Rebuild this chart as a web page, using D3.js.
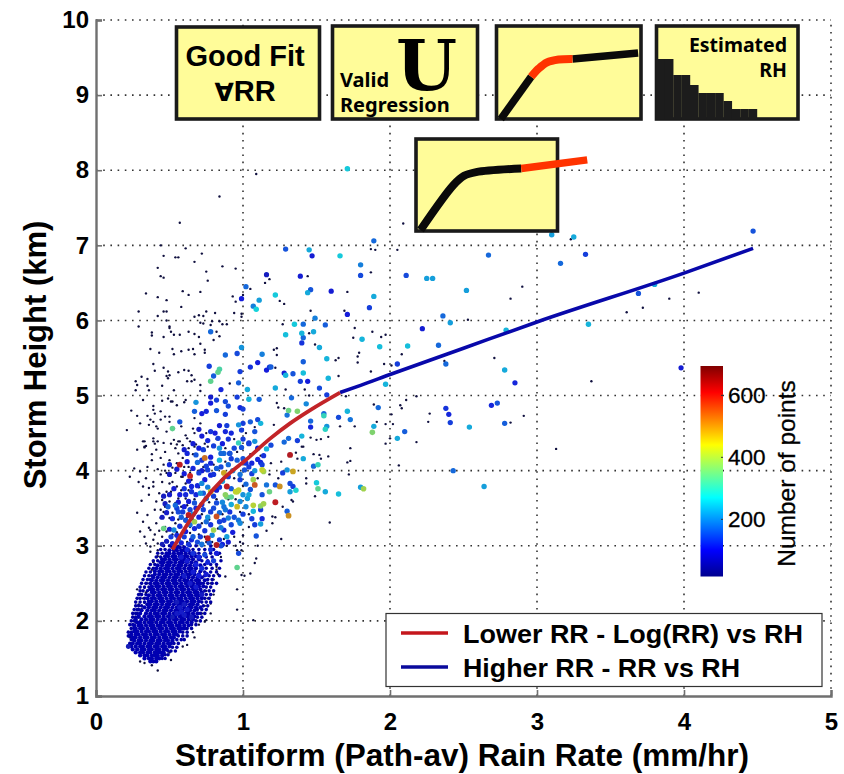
<!DOCTYPE html>
<html>
<head>
<meta charset="utf-8">
<script src="https://cdn.jsdelivr.net/npm/d3@7"></script>
<style>
  body { margin: 0; background: white; }
  text { font-family: "Liberation Sans", Arial, sans-serif; fill: #000; }
</style>
</head>
<body>
<div id="chart"></div>
<script>
// values. rain rate (mm/hr), storm height (km), count
const xTicks = [0, 1, 2, 3, 4, 5];
const yTicks = [1, 2, 3, 4, 5, 6, 7, 8, 9, 10];
const barTicks = [200, 400, 600];

const lowerFit = [[.52,2.95],[.62,3.28],[.73,3.59],[.87,3.90],[1.03,4.16],[1.18,4.42],[1.32,4.63],[1.46,4.81],[1.66,5.04]];
const higherFit = [[1.66,5.04],[1.8,5.135],[2,5.28],[2.5,5.63],[3,5.98],[4,6.63],[4.47,6.96]];

// single profiles, lowest count
const tinyPts = [
[1.09,7.95],[.84,7.65],[.57,7.30],[.44,7.0],[.61,6.96],[.72,6.89],[.46,6.86],[.54,6.84],[.56,6.84],[.67,6.78],[.86,6.72],[.95,6.69],[.42,6.70],[.44,6.59],[.46,6.57],[.75,6.65],[.76,6.53],[1.15,6.50],[1.18,6.55],[.34,6.36],[.59,6.39],[.63,6.34],[.71,6.38],[.42,6.31],[.48,6.27],[.58,6.18],[.93,6.32],[1.0,6.34],[.95,6.25],[1.05,6.42],[1.25,6.26],[1.28,6.22],[.29,6.12],[.42,6.06],[.46,6.12],[.48,6.12],[.48,6.0],[.75,6.12],[.67,6.05],[.70,6.07],[.73,6.06],[.81,6.10],[.94,6.10],[.99,6.09],[.99,6.05],[.71,5.97],[.73,5.96],[.79,5.99],[.78,5.94],[.84,5.99],[.86,5.95],[.89,5.95],[.29,5.92],[.50,5.92],[1.27,5.95],
[1.44,6.59],[1.71,6.38],[1.69,6.13],[1.46,6.13],[1.76,5.90],[2.09,7.29],[2.05,6.94],[1.87,6.95],[1.90,6.94],[1.87,6.64],[2.53,6.01],
[2.90,6.45],[2.82,6.29],[3.23,7.08],[3.61,6.11],[3.72,6.17],[3.90,6.29],[4.10,6.37],[2.71,5.50],
[3.37,5.19],[3.13,4.29],[2.08,5.55],[1.96,5.42],[2.01,5.40],[2.37,5.46],[2.18,4.99],[2.11,4.94],[2.07,4.87],[2.08,4.83],[2.01,4.75],[1.97,4.62],[2.02,4.62],[2.27,4.76],[2.26,4.65],[2.91,4.73],[2.82,4.64],[2.18,4.38],[1.97,4.36],[2.06,4.07],
[1.45,5.83],[1.75,5.77],[1.88,5.85],[1.94,5.78],[1.97,5.81],[1.49,5.68],[1.79,5.57],[1.78,5.52],[1.78,5.44],[1.87,5.32],[1.65,5.50],[1.63,5.47],[1.65,5.26],[1.21,5.61],[1.23,5.63],[1.23,5.54],[1.22,5.37],[1.29,5.08],[1.42,5.08],[1.45,5.0],[1.70,4.99],[1.89,4.88],[1.91,4.65],[1.76,4.59],[1.66,4.59],[1.73,4.30],[2.0,4.43],[1.53,4.42],[1.50,4.41],[1.46,4.44],[1.58,4.45],[1.41,4.32],[1.21,4.61],[1.23,4.90],[1.24,4.84],[1.28,4.83],
[.38,5.84],[.38,5.80],[.46,5.78],[.50,5.90],[.51,5.85],[.53,5.81],[.57,5.81],[.63,5.85],[.67,5.82],[.70,5.78],[.71,5.69],[.80,5.74],[.82,5.85],[.84,5.79],[.37,5.62],[.43,5.57],[.52,5.62],[.53,5.55],[.58,5.59],[.63,5.61],[.66,5.62],[.67,5.55],[.74,5.61],[.74,5.57],[.39,5.42],[.40,5.33],[.46,5.37],[.49,5.32],[.50,5.27],[.49,5.23],[.48,5.26],[.56,5.31],[.60,5.34],[.63,5.33],[.65,5.27],[.31,5.25],[.27,5.19],[.35,5.22],[.28,5.14],[.27,5.07],[.35,5.13],[.36,5.07],[.45,5.13],[.53,5.07],[.62,5.19],[.65,5.19],[.67,5.21],[.71,5.14],[.71,5.06],[.91,5.16],
[.32,4.94],[.39,4.86],[.39,4.81],[.40,4.76],[.45,4.93],[.49,4.96],[.51,4.92],[.52,4.92],[.61,4.94],[.60,4.91],[.55,4.87],[.24,4.80],[.28,4.73],[.35,4.73],[.37,4.68],[.30,4.63],[.36,4.61],[.44,4.79],[.47,4.72],[.50,4.72],[.39,4.65],[.44,4.68],[.41,4.59],[.42,4.56],[.48,4.52],[.50,4.65],[.53,4.56],[.21,4.54],[.32,4.39],[.34,4.33],[.33,4.31],[.39,4.43],[.42,4.39],[.40,4.36],[.51,4.36],[.53,4.41],[.56,4.39],[.55,4.35],[.62,4.43],[.64,4.39],[.67,4.50],[.66,4.56],[.67,4.70],[.71,4.63],[.74,4.36],[.76,4.32],[.67,4.32],[.59,4.34],[.61,4.47],[.58,4.59],
[1.71,4.11],[1.73,4.13],[1.72,3.95],[1.48,4.22],[1.52,4.21],[1.53,4.16],[1.58,4.19],[1.43,3.90],[1.43,3.83],[1.49,3.66],[1.59,3.31],[1.33,3.61],[1.34,3.59],[1.27,3.52],[1.20,3.39],[1.22,3.38],[1.26,3.09],[.89,3.0],[.95,3.0],[.96,2.94],[.99,2.94],[1.0,3.03],[1.0,3.14],[1.19,4.1],[1.26,4.12],[1.40,4.32],[1.36,4.24],[1.37,4.16],
[1.09,2.83],[1.08,2.77],[1.05,2.63],[.99,2.61],[1.01,2.60],[.96,2.42],[.96,2.15],[1.07,2.01],[.75,2.01],[.74,1.99],[.78,2.10],[.80,2.35],[.78,2.23],[.88,2.59],[.82,2.68],[.80,2.81],[.83,2.88],[.51,1.48],[.59,1.66],[.38,1.41],[.42,1.34],[.30,1.46],[.33,1.44],
[.33,4.39],[.28,4.28],[.38,4.14],[.30,3.99],[.23,3.92],[.34,3.90],[.29,3.85],[.39,3.85],[.36,3.77],[.45,3.85],[.48,3.97],[.54,3.97],[.55,4.10],[.50,4.14],[.46,4.37],[.54,4.30],[.63,4.30],[.56,4.23],[.59,4.17],[.44,4.17],[.33,4.32],[.41,4.28],[.57,4.39],[.39,4.39],[.32,3.79],[.39,3.79],[.41,3.59],[.45,3.61],[.50,3.83],[.55,3.79],[.61,3.83],[.65,3.88],[.64,3.97],[.59,3.92],[.44,3.48],[.40,3.48],[.32,3.32],[.30,3.19],[.33,3.12],[.37,3.21],[.39,3.08],[.45,3.12],[.48,3.19],[.41,3.30],[.44,3.37],[.50,3.37],[.54,3.30],[.56,3.63],[.61,3.63],[.63,3.74],[.58,3.74],[.51,3.72],[.50,3.59],[.54,3.57],[.58,3.52],[.62,3.54],[.42,3.03],[.37,2.99],[.37,2.92],[.42,2.94],
[.36,3.68],[.43,3.70],[.47,3.52],[.35,3.41],[.52,3.44],[.47,3.25],[.40,3.15],[.58,3.25],[.26,4.03],[.42,4.02],[.46,4.08],[.52,4.04],[.60,4.05],[.35,4.05],[.47,4.25],[.38,4.22],[.44,3.95],[.31,3.60],[.28,3.44],[.36,3.24],[.34,3.03],[.52,3.15],[.56,3.0],[.62,3.38],[.68,3.44],[.64,3.17],[.70,4.0],[.66,4.22],[.74,4.27],[.70,3.78],[.67,3.62],[.72,3.3],[.74,3.12],[.79,3.05],[.83,3.23],[.87,3.09],
[.28,2.42],[.30,2.36],[.32,2.30],[.29,2.22],[.31,2.16],[.33,2.44],[.35,2.50],[.34,2.38],[.33,2.24],[.36,2.60],[.38,2.68],[.39,2.78],[.42,2.86],[.24,1.90],[.23,1.78],[.28,2.05],[.27,1.98],[.75,2.4],[.78,2.5],[.80,2.55],[.76,2.3],[.72,2.1],[.70,1.95],[.66,1.85],[.60,1.75],[.55,1.65],[.50,1.58],[.82,2.72],[.85,2.85],[.83,2.62],[.74,2.2],[.67,1.78],[.62,1.68],
[.6,3.2],[.66,3.35],[.72,3.42],[.77,3.58],[.82,3.62],[.9,3.62],[.95,3.62],[.98,3.45],[1.04,3.42],[.88,3.92],[.94,3.9],[1.0,3.8],[1.1,3.9],[1.18,3.95],[1.24,3.9],[1.12,4.2],[1.05,4.22],[.96,4.25],[.88,4.12],[.8,4.08],[.73,4.05],[.68,4.35],[.75,4.5],[.82,4.42],[.88,4.3],[.94,4.42],[1.02,4.5],[1.08,4.58],[.64,3.25],[.7,3.15],[.77,3.35],[.86,3.42],[.94,3.12],[.98,3.05],[1.04,3.25],[1.1,3.0],[1.16,3.2],[1.2,3.3],[.58,3.92],[.63,4.05],[.48,3.72],[.52,3.85],[.47,4.0],[.56,3.35],[.43,3.2],[.46,3.45],[.62,3.05],[.75,3.05],[.55,3.18]
];

// the dense low cloud, one list of rain rates per height level
const blobY = [1.46,1.50,1.54,1.58,1.62,1.66,1.70,1.74,1.78,1.82,1.86,1.90,1.94,1.98,2.02,2.06,2.10,2.14,2.18,2.22,2.26,2.30,2.34,2.38,2.42,2.46,2.50,2.54,2.58,2.62,2.66,2.70,2.74,2.78,2.82,2.86,2.90,2.94,2.98];
const blobX = [
[.37,.39,.41],
[.33,.36,.38,.41,.43],
[.30,.33,.35,.38,.40,.42,.45],
[.27,.30,.32,.35,.37,.40,.42,.44,.46],
[.25,.28,.31,.33,.36,.38,.41,.43,.46,.48],
[.22,.24,.27,.30,.32,.35,.37,.40,.42,.45,.47,.50],
[.25,.28,.30,.33,.36,.38,.41,.43,.46,.49,.51],
[.26,.29,.31,.34,.37,.39,.42,.44,.47,.49,.52],
[.25,.27,.30,.33,.35,.38,.40,.43,.46,.48,.51,.53],
[.24,.27,.29,.32,.34,.37,.40,.42,.45,.47,.50,.53,.55],
[.26,.28,.31,.34,.36,.39,.41,.44,.47,.49,.52,.54,.57],
[.27,.30,.32,.35,.38,.40,.43,.45,.48,.51,.53,.56,.58,.60],
[.26,.29,.31,.34,.37,.39,.42,.44,.47,.50,.52,.55,.57,.60,.63],
[.28,.30,.33,.36,.38,.41,.44,.46,.49,.51,.54,.57,.59,.62,.65],
[.27,.31,.34,.37,.39,.42,.45,.47,.50,.53,.55,.58,.60,.63,.66],
[.29,.33,.36,.38,.41,.43,.46,.49,.51,.54,.57,.59,.62,.64,.67],
[.30,.34,.37,.40,.42,.45,.47,.50,.53,.55,.58,.61,.63,.66,.69],
[.31,.35,.38,.40,.43,.46,.48,.51,.54,.56,.59,.62,.64,.67],
[.33,.36,.39,.41,.44,.47,.49,.52,.55,.57,.60,.63,.65,.68,.71],
[.35,.37,.40,.42,.45,.48,.50,.53,.56,.58,.61,.64,.66,.69],
[.36,.38,.41,.44,.46,.49,.51,.54,.57,.59,.62,.65,.67,.70],
[.35,.38,.40,.43,.45,.48,.51,.53,.56,.58,.61,.64,.66,.69,.72],
[.36,.39,.42,.44,.47,.50,.52,.55,.58,.60,.63,.65,.68,.70],
[.38,.40,.43,.46,.48,.51,.54,.56,.59,.62,.64,.67,.69,.72],
[.37,.39,.42,.45,.47,.50,.52,.55,.58,.60,.63,.66,.68,.71],
[.38,.41,.43,.46,.49,.51,.54,.57,.59,.62,.65,.67,.70,.73],
[.37,.40,.42,.45,.48,.50,.53,.55,.58,.61,.63,.66,.69,.71],
[.38,.41,.44,.46,.49,.52,.54,.57,.60,.62,.65,.68,.70,.74],
[.39,.42,.45,.47,.50,.53,.55,.58,.60,.63,.66,.69,.72],
[.40,.43,.46,.48,.51,.54,.56,.59,.62,.64,.67,.70],
[.40,.43,.45,.48,.50,.53,.56,.58,.61,.64,.67,.71],
[.41,.44,.47,.49,.52,.55,.57,.60,.63,.65,.68],
[.42,.45,.48,.50,.53,.56,.58,.61,.64,.67,.71],
[.44,.46,.49,.51,.54,.57,.59,.62,.65,.68],
[.45,.47,.50,.53,.55,.58,.60,.63,.66,.70],
[.47,.49,.52,.54,.57,.60,.62,.65,.68],
[.48,.50,.53,.56,.58,.61,.64,.67],
[.50,.53,.55,.58,.60,.63],
[.52,.55,.57,.60]
];

// thinner fringe round the cloud, same form
const edgeY = [1.5,1.55,1.6,1.65,1.7,1.75,1.8,1.85,1.9,1.95,2.0,2.05,2.1,2.15,2.2,2.25,2.3,2.35,2.4,2.45,2.5,2.55,2.6,2.65,2.7,2.75,2.8,2.85,2.9,2.95,3.0];
const edgeX = [
[.45,.47],
[.47,.49],
[.49,.51,.54],
[.52,.55],
[.23,.53,.56],
[.24,.55,.58,.60],
[.22,.23,.56,.59,.62],
[.22,.24,.59,.62],
[.24,.26,.62,.65],
[.23,.25,.65,.68],
[.24,.26,.68,.71],
[.25,.27,.29,.69,.72],
[.25,.27,.28,.71,.74],
[.26,.28,.29,.69,.72,.75],
[.27,.29,.31,.73,.76],
[.27,.30,.33,.72,.75,.78],
[.28,.30,.33,.74,.77],
[.29,.31,.34,.72,.75,.78],
[.30,.32,.35,.74,.77,.80],
[.30,.33,.36,.75,.78],
[.31,.34,.73,.76,.79,.82],
[.32,.35,.37,.76,.79],
[.33,.36,.38,.74,.77,.80,.84],
[.34,.37,.74,.78,.82],
[.36,.39,.72,.75,.79,.84],
[.37,.40,.74,.78,.82],
[.39,.42,.72,.76,.80,.85],
[.41,.44,.71,.75,.79],
[.42,.45,.70,.74,.78,.84],
[.44,.47,.66,.70,.74,.80],
[.46,.50,.64,.68,.72,.78,.86]
];

// rain rate, height, number of points
const binnedPts = [
[.55,2.10,75],[.58,2.12,80],[.60,2.08,75],[.57,2.18,75],[.62,2.15,80],[.60,2.22,70],[.55,2.25,65],[.65,2.05,65],[.52,2.05,60],[.22,1.66,60],
[.62,2.95,110],[.66,2.90,120],[.70,2.85,110],[.74,2.88,140],[.78,2.95,120],[.82,2.90,100],[.68,2.75,105],[.72,2.70,115],[.66,2.65,90],[.70,2.60,95],[.75,2.62,90],[.62,2.80,90],[.58,2.85,85],[.60,2.60,80],[.64,2.50,80],[.68,2.45,85],[.72,2.35,75],[.76,2.78,110],[.80,2.80,130],[.85,3.00,140],
[1.29,6.95,150],[1.16,6.61,70],[1.39,6.59,90],[1.02,6.45,170],[.99,6.29,100],[1.11,6.27,220],[1.22,6.34,260],[1.07,6.19,190],[1.09,6.15,270],[1.35,5.95,260],
[1.71,8.02,260],[1.45,6.94,230],[1.47,6.86,90],[1.66,6.86,260],[1.89,7.06,170],[1.80,6.74,190],[1.80,6.60,140],[1.46,6.41,150],[1.44,6.37,230],[1.60,6.39,90],[1.89,6.32,230],[1.86,6.17,130],[1.71,6.08,100],[1.49,6.03,190],[1.41,5.95,170],[1.56,5.94,160],[2.11,6.60,140],[2.25,6.56,220],[2.29,6.56,220],[2.52,6.40,220],[2.36,6.06,170],[2.41,5.97,220],[2.22,5.89,90],
[2.67,6.87,170],[3.10,7.14,220],[3.25,7.11,230],[3.16,6.76,170],[3.33,6.88,130],[4.47,7.19,150],[2.79,5.87,240],[2.78,5.34,230],[3.35,5.95,240],[3.69,6.36,150],[3.80,6.48,230],[3.98,5.37,90],
[1.29,5.81,250],[1.40,5.83,240],[1.48,5.85,230],[1.41,5.77,170],[1.40,5.70,120],[1.52,5.64,230],[1.81,5.75,240],[1.93,5.65,250],[2.12,5.66,250],[2.33,5.67,170],[2.38,5.42,170],[2.05,5.42,130],[1.41,5.45,160],[1.57,5.49,240],[1.41,5.30,250],[1.28,5.30,90],[1.29,5.27,240],[1.34,5.29,150],[1.39,5.19,130],[1.44,5.19,100],[1.58,5.23,240],[1.52,5.10,140],[1.22,5.10,230],[1.97,5.15,240],[1.19,5.38,160],[1.33,4.97,170],[1.57,5.01,130],[1.43,4.89,200],[1.31,4.80,350],[1.37,4.79,370],[1.30,4.74,180],[1.55,4.76,170],[1.55,4.73,300],[1.71,4.79,240],[1.65,4.71,140],[1.73,4.68,180],[1.92,4.84,170],[1.46,4.66,170],[1.46,4.58,110],[1.57,4.59,210],[1.56,4.55,290],[1.89,4.59,230],[1.88,4.51,370],[2.10,4.52,160],[2.05,4.43,230],[2.38,4.83,120],[2.40,4.75,110],[2.41,4.64,130],[2.54,4.58,230],[1.40,4.46,240],[1.37,4.40,130],[1.31,4.43,170],[1.28,4.38,170],[1.19,4.34,140],
[2.85,5.17,110],[2.69,4.87,110],[2.73,4.90,150],[2.78,4.63,160],[2.43,4.0,170],[2.64,3.79,220],
[.78,5.85,170],[.88,5.54,170],[.96,5.56,140],[.99,5.64,210],[1.13,5.55,190],[1.10,5.44,100],[1.05,5.38,120],[1.16,5.34,100],[1.18,5.38,120],[.98,5.32,130],[.77,5.39,130],[.84,5.35,320],[.83,5.31,340],[.80,5.26,160],[.78,5.19,340],[.97,5.17,160],[1.03,5.08,230],[.85,5.08,110],[1.04,4.95,240],[1.11,4.95,160],[.78,4.98,80],[.82,4.94,130],[.88,4.92,140],[.96,4.98,130],[.68,4.91,210],[.78,4.90,100],[.90,4.86,140],[1.0,4.82,130],[.98,4.84,110],[.67,4.79,160],[.72,4.76,100],[.75,4.79,110],[.82,4.80,150],[.88,4.75,130],[.57,4.65,150],[.52,4.56,340],[.97,4.61,210],[1.0,4.63,130],[1.05,4.65,160],[1.10,4.68,140],[1.12,4.63,240],[.99,4.54,130],[1.08,4.52,150],[.89,4.60,130],[.88,4.52,110],[.81,4.50,100],[.83,4.43,130],
[1.32,4.21,630],[1.16,4.29,240],[1.08,4.39,210],[1.04,4.36,130],[.99,4.31,150],[1.0,4.16,150],[.91,4.23,150],[.92,4.16,130],[.87,4.23,170],[1.06,4.10,110],[1.12,4.11,110],[1.13,4.08,130],[1.41,4.16,230],[1.48,4.06,170],[1.51,4.08,300],[1.30,4.01,210],[1.27,3.97,130],[1.34,3.99,480],[1.08,4.0,210],[1.13,4.01,430],[1.01,4.01,150],[1.06,3.96,130],[1.08,3.81,550],[1.07,3.88,400],[1.16,3.81,180],[1.22,3.81,150],[1.25,3.79,500],[1.18,3.72,350],[1.05,3.75,150],[1.13,3.68,150],[1.32,3.83,140],[1.34,3.79,130],[1.32,3.72,220],[1.36,3.74,280],[1.50,3.84,260],[1.51,3.76,340],[1.56,3.72,230],[1.65,3.69,250],[1.80,3.78,220],[1.82,3.76,400],[1.22,3.58,620],[1.14,3.56,400],[1.12,3.53,380],[1.07,3.54,420],[1.07,3.46,240],[1.12,3.48,130],[.96,3.72,420],[.97,3.74,430],[.88,3.68,380],[.92,3.65,330],[1.04,3.68,230],[1.03,3.63,220],[.96,3.52,460],[.98,3.59,200],[.88,3.48,180],[.90,3.37,190],[.87,3.34,130],[1.30,3.46,160],[1.31,3.40,500],[1.06,3.36,130],[1.13,3.36,110],[1.12,3.29,220],[1.08,3.28,130],[1.09,3.13,150],[.98,3.30,200],[.97,3.34,180],[.97,2.90,140],[.96,2.71,340],
[.50,4.08,110],[.57,4.08,620],[.64,3.93,600],[.69,4.11,170],[.74,4.17,530],[.70,3.97,130],[.76,4.01,130],[.78,3.94,110],[.72,3.83,200],[.78,3.72,450],[.82,3.74,90],[.89,3.79,620],[.95,3.72,430],[.89,3.65,350],[.61,3.68,110],[.54,3.54,170],[.49,3.52,160],[.56,3.45,140],[.63,3.41,620],[.67,3.32,400],[.61,3.34,150],[.46,3.23,350],[.53,3.21,200],[.61,3.19,100],[.67,3.23,110],[.75,3.32,170],[.82,3.39,560],[.84,3.32,130],[.80,3.21,400],[.76,3.10,620],[.82,3.01,630],[.89,3.12,220],[.71,3.12,130],[.65,3.08,110],[.56,3.08,150],[.51,3.12,130],[.63,3.59,90],[.67,3.57,150],[.71,3.70,210],[.75,3.63,180],[.82,3.57,140],[.87,3.52,180],[.91,3.45,120],[.87,3.21,110],[.73,3.48,130],[.68,3.50,110],[.78,3.45,130],[.65,3.79,110],[.65,3.72,120],[.59,3.45,130],[.84,4.14,240],[.87,3.97,480],[.90,3.92,130],[.78,4.10,110],[.82,4.03,160],[.68,4.21,150],[.85,4.23,170],[.91,4.23,130],[.62,4.23,110],[1.04,4.37,130],[.97,4.37,300],[.84,4.30,210],[.73,4.28,130],[.96,4.14,160],[1.02,4.10,120],[1.14,3.99,400],
[.45,3.02,60],[.48,3.06,70],[.52,3.03,90],[.55,3.14,110],[.58,3.04,100],[.60,3.12,130],[.63,3.02,120],[.66,3.12,160],[.69,3.05,140],[.72,3.02,180],[.74,3.2,120],[.77,3.04,150],[.79,3.14,200],[.84,3.08,120],[.86,3.02,100],[.9,3.05,90],[.93,3.18,100],[.5,3.22,80],[.57,3.26,120],[.64,3.28,180],[.70,3.26,130],[.78,3.28,120],[.85,3.24,190],[.92,3.28,140],
[.45,3.38,70],[.48,3.44,80],[.52,3.36,110],[.55,3.5,130],[.58,3.38,160],[.60,3.52,100],[.64,3.48,140],[.66,3.42,200],[.70,3.38,110],[.72,3.55,120],[.76,3.38,210],[.8,3.5,140],[.84,3.44,170],[.86,3.58,200],[.92,3.55,230],[.94,3.38,150],[1.0,3.42,130],[1.02,3.52,200],[.56,3.58,90],[.47,3.56,70],
[.46,3.66,70],[.5,3.68,80],[.53,3.76,90],[.57,3.68,100],[.6,3.76,120],[.63,3.86,90],[.68,3.68,110],[.73,3.7,160],[.76,3.78,190],[.8,3.66,130],[.84,3.78,120],[.86,3.86,220],[.92,3.76,160],[1.0,3.68,210],[1.02,3.82,170],[.98,3.88,130],[.74,3.88,100],[.69,3.8,110],
[.5,3.95,70],[.55,4.02,90],[.6,3.96,100],[.66,4.03,110],[.72,4.0,90],[.75,4.06,130],[.8,3.95,120],[.85,4.05,140],[.9,4.08,170],[.93,4.0,200],[.98,3.95,180],[1.04,4.05,130],[1.1,4.15,110],[.72,4.14,120],[.62,4.12,90],[.78,4.18,100],
[.6,4.28,80],[.66,4.36,90],[.7,4.3,100],[.76,4.4,110],[.8,4.33,130],[.86,4.36,100],[.9,4.42,120],[.94,4.3,140],[.72,4.46,90],[.78,4.52,120],[.92,4.5,110],[1.0,4.42,130],[1.1,4.3,90],[1.14,4.2,120],[.7,4.55,70],[.84,4.6,90]
];

// inset icons, in percent of their box
const knee3Black = [[[3,100],[24,54.6]], [[52.6,35.4],[98,29]]];
const knee3Red = [[24,54.6],[29,46],[35,39],[43,36],[52.6,35.4]];
const knee5Black = [[3.2,99],[26.5,50],[34,40],[42.5,36],[74.4,32]];
const knee5Red = [[74.4,32],[121,22.7]];
const estHeights = [60,60,44,44,34,26,26,26,18,10,10,10];

const width = 844, height = 774;
const svg = d3.select("#chart").append("svg").attr("width", width).attr("height", height);
const defs = svg.append("defs");
defs.append("filter").attr("id", "soft").append("feGaussianBlur").attr("stdDeviation", .45);
defs.append("filter").attr("id", "softer").append("feGaussianBlur").attr("stdDeviation", .3);

const x = d3.scaleLinear().domain([0, 5]).range([96, 831]);
const y = d3.scaleLinear().domain([1, 10]).range([696, 20]);

// grid first, everything sits on top of it
const gridColor = "#333";
svg.append("g").selectAll("line").data(xTicks.slice(1)).join("line")
    .attr("x1", d => x(d)).attr("x2", d => x(d))
    .attr("y1", y(1)).attr("y2", y(10))
    .attr("stroke", gridColor).attr("stroke-width", 1.6).attr("stroke-dasharray", "1.6 5.6");
svg.append("g").selectAll("line").data(yTicks.slice(1)).join("line")
    .attr("x1", x(0)).attr("x2", x(5))
    .attr("y1", d => y(d)).attr("y2", d => y(d))
    .attr("stroke", gridColor).attr("stroke-width", 1.6).attr("stroke-dasharray", "1.6 5.6");

// jet, as in the colour bar
const count = d3.scaleLinear().domain([14, 693]);
const jetStops = [[0, "#00008f"], [.125, "#0000ff"], [.375, "#00ffff"], [.625, "#ffff00"], [.875, "#ff0000"], [1, "#800000"]];
const jetT = d3.scaleLinear().domain(jetStops.map(d => d[0])).range(jetStops.map(d => d[1])).interpolate(d3.interpolateRgb);
const jet = c => jetT(count(c));
// the scan washes the dots out a little
const washed = c => d3.interpolateRgb(jet(c), "#406080")(.28);
const radius = d3.scaleLinear().domain([14, 30, 40, 70, 690]).range([1.2, 1.8, 2.15, 2.6, 3]).clamp(true);

const dots = svg.append("g");
dots.selectAll(".tiny").data(tinyPts).join("circle").attr("class", "tiny")
    .attr("cx", d => x(d[0])).attr("cy", d => y(d[1])).attr("r", radius(14))
    .attr("fill", "#10103f");

const fringePts = edgeY.flatMap((h, i) => edgeX[i].map(r => [r, h, 30]));
const blobPts = blobY.flatMap((h, i) => blobX[i].map(r => [r, h, 40]));
dots.append("g").attr("filter", "url(#softer)").selectAll("circle").data(fringePts.concat(blobPts)).join("circle")
    .attr("cx", d => x(d[0])).attr("cy", d => y(d[1])).attr("r", d => radius(d[2]))
    .attr("fill", d => jet(d[2]));

const binned = binnedPts.slice().sort((a, b) => a[2] - b[2]);
dots.append("g").attr("filter", "url(#soft)").selectAll("circle").data(binned).join("circle")
    .attr("cx", d => x(d[0])).attr("cy", d => y(d[1])).attr("r", d => radius(d[2]))
    .attr("fill", d => washed(d[2]));

// fit lines
const fitLine = d3.line().x(d => x(d[0])).y(d => y(d[1])).curve(d3.curveMonotoneX);
svg.append("path").attr("d", fitLine(higherFit)).attr("fill", "none").attr("stroke", "#0808aa").attr("stroke-width", 3.6);
svg.append("path").attr("d", fitLine(lowerFit)).attr("fill", "none").attr("stroke", "#c22428").attr("stroke-width", 3.8);

// axes, left and bottom only
const axisColor = "#707070";
const xAxis = svg.append("g").attr("transform", `translate(0,${y(1)})`)
    .call(d3.axisBottom(x).tickValues(xTicks).tickFormat(d3.format("d")).tickSize(-6).tickPadding(17));
const yAxis = svg.append("g").attr("transform", `translate(${x(0)},0)`)
    .call(d3.axisLeft(y).tickValues(yTicks).tickFormat(d3.format("d")).tickSize(-6).tickPadding(7));
[xAxis, yAxis].forEach(a => {
    a.select(".domain").attr("stroke", axisColor).attr("stroke-width", 2.4);
    a.selectAll(".tick line").attr("stroke", axisColor).attr("stroke-width", 1.6);
    a.selectAll("text").style("font-family", '"Liberation Sans", Arial, sans-serif')
        .style("font-size", "24px").style("font-weight", "bold").attr("fill", "#000");
});

svg.append("text").attr("x", 462).attr("y", 766).attr("text-anchor", "middle")
    .style("font-size", "31.5px").style("font-weight", "bold")
    .text("Stratiform (Path-av) Rain Rate (mm/hr)");
svg.append("text").attr("transform", "translate(46,355) rotate(-90)").attr("text-anchor", "middle")
    .style("font-size", "31px").style("font-weight", "bold")
    .text("Storm Height (km)");

// colour bar
const barY = d3.scaleLinear().domain(count.domain()).range([576.5, 366]);
const grad = defs.append("linearGradient").attr("id", "jet")
    .attr("x1", 0).attr("x2", 0).attr("y1", 1).attr("y2", 0);
grad.selectAll("stop").data(jetStops).join("stop")
    .attr("offset", d => d[0]).attr("stop-color", d => d[1]);
svg.append("rect").attr("x", 700.5).attr("y", barY(693)).attr("width", 22.5)
    .attr("height", barY(14) - barY(693)).attr("fill", "url(#jet)");
const barAxis = svg.append("g").attr("transform", "translate(723,0)")
    .call(d3.axisRight(barY).tickValues(barTicks).tickSize(-2).tickPadding(5));
barAxis.select(".domain").remove();
barAxis.selectAll(".tick line").attr("stroke", "#333");
barAxis.selectAll("text").style("font-family", '"Liberation Sans", Arial, sans-serif')
    .style("font-size", "22.5px").attr("fill", "#000").attr("stroke", "#000").attr("stroke-width", .3);
svg.append("text").attr("transform", "translate(795,473.5) rotate(-90)").attr("text-anchor", "middle")
    .style("font-size", "24.5px").attr("stroke", "#000").attr("stroke-width", .3)
    .text("Number of points");

// legend
const legend = svg.append("g");
legend.append("rect").attr("x", 386).attr("y", 613.5).attr("width", 436).attr("height", 73)
    .attr("fill", "white").attr("stroke", "#333").attr("stroke-width", 1.2);
[["Lower RR - Log(RR) vs RH", "#c4161c", 633, 340], ["Higher RR - RR vs RH", "#0a0a9c", 667, 277]].forEach(([label, color, ly, tl]) => {
    legend.append("line").attr("x1", 401).attr("x2", 448).attr("y1", ly).attr("y2", ly)
        .attr("stroke", color).attr("stroke-width", 3.4);
    legend.append("text").attr("x", 463).attr("y", ly + 9.5)
        .attr("textLength", tl).attr("lengthAdjust", "spacingAndGlyphs")
        .style("font-size", "25px").style("font-weight", "bold").text(label);
});

// inset boxes
function insetBox(bx, by, bw, bh) {
    const g = svg.append("g");
    g.append("rect").attr("x", bx).attr("y", by).attr("width", bw).attr("height", bh)
        .attr("fill", "#fffc99").attr("stroke", "#1a1a1a").attr("stroke-width", 3.6);
    g.sx = d3.scaleLinear().domain([0, 100]).range([bx, bx + bw]);
    g.sy = d3.scaleLinear().domain([0, 100]).range([by, by + bh]);
    g.line = d3.line().x(d => g.sx(d[0])).y(d => g.sy(d[1]));
    return g;
}
const iconFont = '"Noto Sans", "Open Sans", sans-serif';
function iconText(g, px, py, anchor, size, str) {
    return g.append("text").attr("x", px).attr("y", py).attr("text-anchor", anchor)
        .style("font-family", iconFont).style("font-size", size + "px").style("font-weight", "bold").text(str);
}

const box1 = insetBox(176.5, 27, 143, 92);
iconText(box1, 245, 65.5, "middle", 29, "Good Fit").style("font-family", '"Liberation Sans", sans-serif');
const forAll = iconText(box1, 245, 100.5, "middle", 29, "").style("font-family", '"Liberation Sans", sans-serif');
forAll.append("tspan").style("font-family", '"DejaVu Sans"').style("font-size", "25px").text("\u2200");
forAll.append("tspan").text("RR");

const box2 = insetBox(332.5, 26, 145, 93);
iconText(box2, 340, 87, "start", 20, "Valid");
iconText(box2, 340, 111.5, "start", 20, "Regression");
box2.append("text").attr("x", 426.5).attr("y", 90).attr("text-anchor", "middle")
    .style("font-family", '"DejaVu Serif", serif').style("font-weight", "bold").style("font-size", "70px").text("U");

const box3 = insetBox(496.5, 26, 144.5, 93);
knee3Black.forEach(seg => box3.append("path").attr("d", box3.line(seg)).attr("fill", "none")
    .attr("stroke", "#0a0a0a").attr("stroke-width", 7.5));
box3.append("path").attr("d", box3.line.curve(d3.curveCatmullRom)(knee3Red)).attr("fill", "none")
    .attr("stroke", "#ff3300").attr("stroke-width", 8);
box3.line.curve(d3.curveLinear);

const box4 = insetBox(656.5, 26, 141.5, 93);
iconText(box4, 787, 51.5, "end", 19.5, "Estimated");
iconText(box4, 787, 76.5, "end", 19.5, "RH");
const estX = d3.scaleBand().domain(d3.range(estHeights.length)).range([656.5, 757]);
const estY = d3.scaleLinear().domain([0, 93]).range([119, 26]);
box4.selectAll(".est").data(estHeights).join("rect").attr("class", "est")
    .attr("x", (d, i) => estX(i)).attr("width", estX.bandwidth() + .2)
    .attr("y", d => estY(d)).attr("height", d => estY(0) - estY(d)).attr("fill", "#1c1c1c");

const box5 = insetBox(416, 139, 141.5, 92);
box5.append("path").attr("d", box5.line.curve(d3.curveCatmullRom)(knee5Black)).attr("fill", "none")
    .attr("stroke", "#0a0a0a").attr("stroke-width", 8);
box5.line.curve(d3.curveLinear);
box5.append("path").attr("d", box5.line(knee5Red)).attr("fill", "none")
    .attr("stroke", "#ff3300").attr("stroke-width", 7.5);
</script>
</body>
</html>
